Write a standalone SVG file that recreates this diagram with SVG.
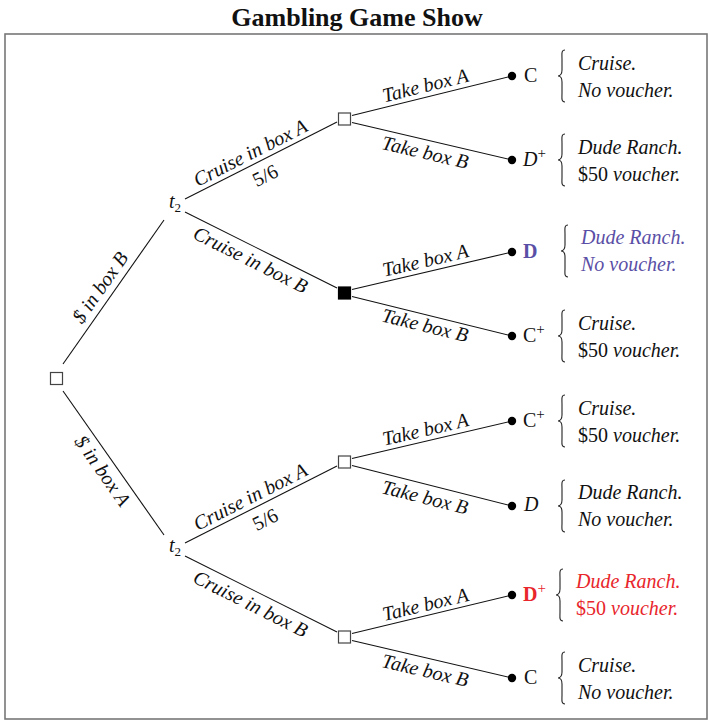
<svg xmlns="http://www.w3.org/2000/svg" width="710" height="721" viewBox="0 0 710 721">
  <style>
    .t { font-family: "Liberation Serif", serif; font-size: 20px; fill: #111; }
    .it { font-style: italic; }
    .mid { text-anchor: middle; }
    .sup { font-size: 15px; font-weight: normal; }
    .edge { stroke: #111; stroke-width: 1.1; fill: none; }
    .chance { fill: #fff; stroke: #444; stroke-width: 1.2; }
    .brace { fill: none; stroke: #222; stroke-width: 1.1; }
    .purple { fill: #5a4fa6; }
    .red { fill: #e8262c; }
  </style>
  <defs>
    <!-- curly brace, tip at (0,0), spanning -26..26 -->
    <path id="brace" d="M7,-26 C3,-26 4,-22 4,-17 L4,-6 C4,-2 2,0 0,0 C2,0 4,2 4,6 L4,17 C4,22 3,26 7,26"/>
  </defs>

  <rect width="710" height="721" fill="#fff"/>
  <text x="357" y="26" class="mid" font-family="Liberation Serif, serif" font-size="26" font-weight="bold" fill="#111">Gambling Game Show</text>
  <rect x="5" y="34" width="702" height="685" fill="none" stroke="#777" stroke-width="1.6"/>

  <!-- connectors -->
  <g id="connectors" class="edge">
    <line x1="63" y1="364" x2="164" y2="220"/>
    <line x1="63" y1="391" x2="164" y2="535"/>
    <line x1="185" y1="199" x2="337" y2="122"/>
    <line x1="185" y1="212" x2="337" y2="288"/>
    <line x1="185" y1="543" x2="337" y2="466"/>
    <line x1="185" y1="556" x2="337" y2="632"/>
    <line x1="352" y1="115.5" x2="512" y2="76"/>
    <line x1="352" y1="122.5" x2="512" y2="160"/>
    <line x1="352" y1="289.5" x2="512" y2="252"/>
    <line x1="352" y1="296.5" x2="512" y2="336"/>
    <line x1="352" y1="458.5" x2="512" y2="421"/>
    <line x1="352" y1="465.5" x2="512" y2="506"/>
    <line x1="352" y1="633.5" x2="512" y2="595"/>
    <line x1="352" y1="640.5" x2="512" y2="678"/>
  </g>

  <!-- connector labels -->
  <g id="edge-labels" class="t it">
    <text class="mid" transform="translate(113.5,292) rotate(-54.95)" x="-4" y="-7">$ in box B</text>
    <text class="mid" transform="translate(113.5,463) rotate(54.95)" x="0" y="20">$ in box A</text>

    <text class="mid" transform="translate(261,160.5) rotate(-26.86)" x="-6" y="-5">Cruise in box A</text>
    <text class="mid" transform="translate(261,160.5) rotate(-26.86)" x="-3" y="22" font-style="normal">5/6</text>
    <text class="mid" transform="translate(261,250) rotate(26.57)" x="-5" y="20">Cruise in box B</text>

    <text class="mid" transform="translate(261,504.5) rotate(-26.86)" x="-6" y="-5">Cruise in box A</text>
    <text class="mid" transform="translate(261,504.5) rotate(-26.86)" x="-3" y="22" font-style="normal">5/6</text>
    <text class="mid" transform="translate(261,594) rotate(26.57)" x="-5" y="20">Cruise in box B</text>

    <text class="mid" transform="translate(432,95.75) rotate(-13.87)" x="-4" y="-5">Take box A</text>
    <text class="mid" transform="translate(432,141.25) rotate(13.19)" x="-4" y="19">Take box B</text>
    <text class="mid" transform="translate(432,270.75) rotate(-13.19)" x="-4" y="-5">Take box A</text>
    <text class="mid" transform="translate(432,314.25) rotate(13.87)" x="-4" y="19">Take box B</text>
    <text class="mid" transform="translate(432,439.75) rotate(-13.19)" x="-4" y="-5">Take box A</text>
    <text class="mid" transform="translate(432,486.25) rotate(14.2)" x="-4" y="19">Take box B</text>
    <text class="mid" transform="translate(432,614.75) rotate(-13.53)" x="-4" y="-5">Take box A</text>
    <text class="mid" transform="translate(432,659.25) rotate(13.19)" x="-4" y="19">Take box B</text>
  </g>

  <!-- root decision -->
  <g id="root">
    <rect class="chance" x="50.5" y="372.5" width="12" height="12"/>
  </g>

  <!-- chance nodes -->
  <g id="t2-upper">
    <text class="t it" x="169" y="208">t<tspan font-style="normal" font-size="13" dy="4">2</tspan></text>
  </g>
  <g id="t2-lower">
    <text class="t it" x="169" y="552">t<tspan font-style="normal" font-size="13" dy="4">2</tspan></text>
  </g>

  <!-- second decisions -->
  <g id="choice-1"><rect class="chance" x="338.5" y="113" width="12" height="12"/></g>
  <g id="choice-2"><rect x="338.5" y="287" width="12" height="12" fill="#000" stroke="#000" stroke-width="1.2"/></g>
  <g id="choice-3"><rect class="chance" x="338.5" y="456" width="12" height="12"/></g>
  <g id="choice-4"><rect class="chance" x="338.5" y="631" width="12" height="12"/></g>

  <!-- outcomes -->
  <g id="outcome-1">
    <circle cx="512" cy="76" r="4.2" fill="#000"/>
    <text class="t" x="524" y="82">C</text>
    <use href="#brace" x="558" y="76" class="brace"/>
    <text class="t it" x="578" y="70">Cruise.</text>
    <text class="t it" x="578" y="97">No voucher.</text>
  </g>
  <g id="outcome-2">
    <circle cx="512" cy="160" r="4.2" fill="#000"/>
    <text class="t" x="523" y="166"><tspan font-style="italic">D</tspan><tspan class="sup" dy="-8">+</tspan></text>
    <use href="#brace" x="558" y="160" class="brace"/>
    <text class="t it" x="578" y="154">Dude Ranch.</text>
    <text class="t" x="578" y="181">$50 <tspan font-style="italic">voucher.</tspan></text>
  </g>
  <g id="outcome-3">
    <circle cx="512" cy="252" r="4.2" fill="#000"/>
    <text class="t purple" x="523" y="258" font-weight="bold">D</text>
    <use href="#brace" x="561" y="251" class="brace" stroke="#5a4fa6"/>
    <text class="t it purple" x="581" y="244">Dude Ranch.</text>
    <text class="t it purple" x="581" y="271">No voucher.</text>
  </g>
  <g id="outcome-4">
    <circle cx="512" cy="336" r="4.2" fill="#000"/>
    <text class="t" x="523" y="342">C<tspan class="sup" dy="-8">+</tspan></text>
    <use href="#brace" x="558" y="336" class="brace"/>
    <text class="t it" x="578" y="330">Cruise.</text>
    <text class="t" x="578" y="357">$50 <tspan font-style="italic">voucher.</tspan></text>
  </g>
  <g id="outcome-5">
    <circle cx="512" cy="421" r="4.2" fill="#000"/>
    <text class="t" x="523" y="427">C<tspan class="sup" dy="-8">+</tspan></text>
    <use href="#brace" x="558" y="421" class="brace"/>
    <text class="t it" x="578" y="415">Cruise.</text>
    <text class="t" x="578" y="442">$50 <tspan font-style="italic">voucher.</tspan></text>
  </g>
  <g id="outcome-6">
    <circle cx="512" cy="506" r="4.2" fill="#000"/>
    <text class="t it" x="524" y="511">D</text>
    <use href="#brace" x="558" y="506" class="brace"/>
    <text class="t it" x="578" y="499">Dude Ranch.</text>
    <text class="t it" x="578" y="526">No voucher.</text>
  </g>
  <g id="outcome-7">
    <circle cx="512" cy="595" r="4.2" fill="#000"/>
    <text class="t red" x="523" y="601" font-weight="bold">D<tspan class="sup" dy="-8">+</tspan></text>
    <use href="#brace" x="556" y="595" class="brace" stroke="#e8262c"/>
    <text class="t red" x="576" y="588" font-style="italic">Dude Ranch.</text>
    <text class="t red" x="576" y="615">$50 <tspan font-style="italic">voucher.</tspan></text>
  </g>
  <g id="outcome-8">
    <circle cx="512" cy="678" r="4.2" fill="#000"/>
    <text class="t" x="524" y="684">C</text>
    <use href="#brace" x="558" y="678" class="brace"/>
    <text class="t it" x="578" y="672">Cruise.</text>
    <text class="t it" x="578" y="699">No voucher.</text>
  </g>
</svg>
